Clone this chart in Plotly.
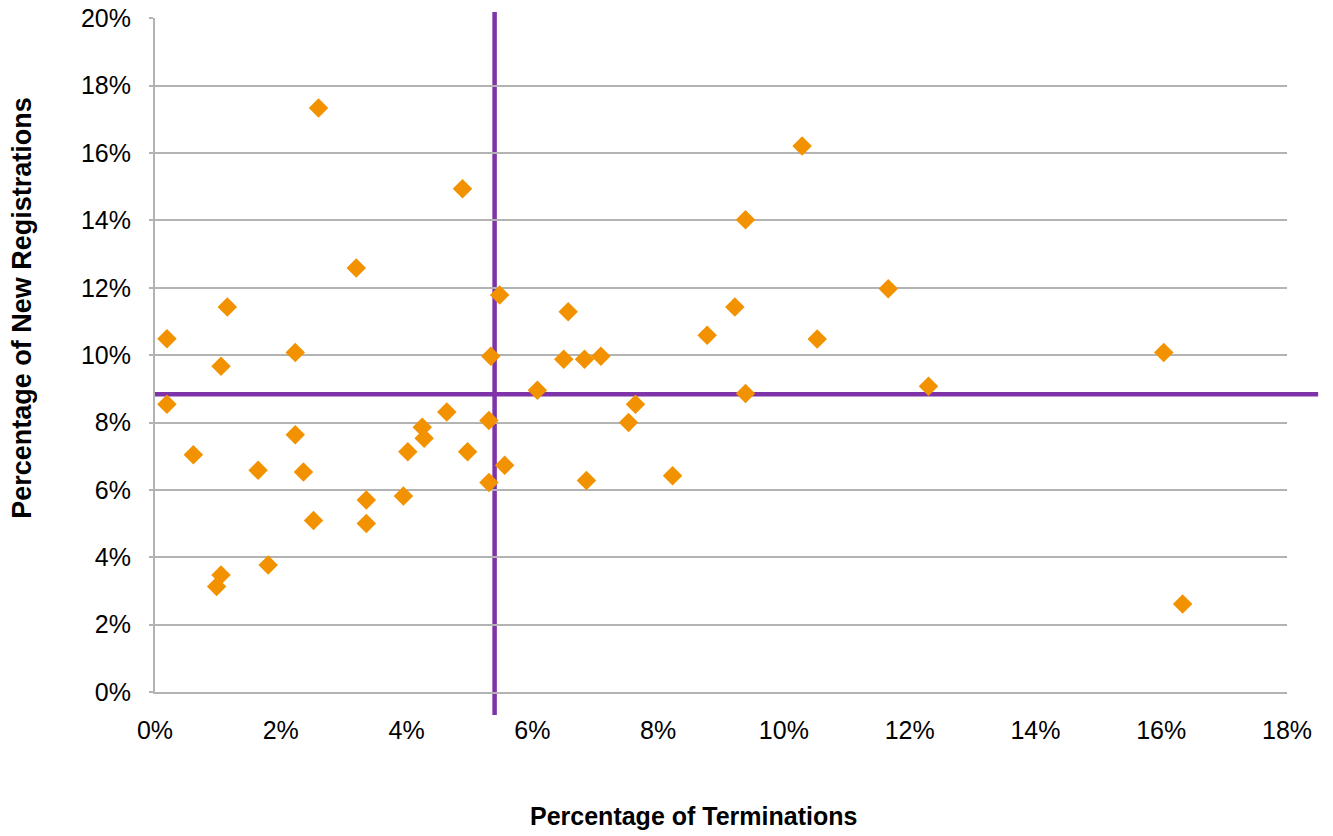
import plotly.graph_objects as go

# ── Data (percent) ────────────────────────────────────────────────────────────

terminations_pct = [
    0.19, 0.19, 0.61, 0.98, 1.05, 1.05, 1.15, 1.64, 1.80, 2.23,
    2.23, 2.36, 2.52, 2.60, 3.20, 3.36, 3.36, 3.95, 4.02, 4.25,
    4.28, 4.64, 4.89, 4.97, 5.31, 5.31, 5.34, 5.48, 5.56, 6.08,
    6.50, 6.57, 6.83, 6.86, 7.09, 7.53, 7.64, 8.23, 8.78, 9.22,
    9.39, 9.39, 10.29, 10.53, 11.66, 12.30, 16.04, 16.34,
]
new_registrations_pct = [
    10.49, 8.54, 7.04, 3.13, 3.47, 9.67, 11.43, 6.58, 3.77, 10.08,
    7.64, 6.53, 5.09, 17.34, 12.59, 5.70, 5.00, 5.82, 7.13, 7.86,
    7.53, 8.31, 14.94, 7.13, 8.06, 6.22, 9.97, 11.79, 6.73, 8.96,
    9.88, 11.29, 9.88, 6.28, 9.97, 8.00, 8.54, 6.42, 10.59, 11.43,
    14.02, 8.86, 16.21, 10.48, 11.97, 9.08, 10.08, 2.61,
]

avg_terminations = 5.40
avg_registrations = 8.84

x_ticks = [0, 2, 4, 6, 8, 10, 12, 14, 16, 18]
x_tick_labels = ["0%", "2%", "4%", "6%", "8%", "10%", "12%", "14%", "16%", "18%"]
y_ticks = [0, 2, 4, 6, 8, 10, 12, 14, 16, 18, 20]
y_tick_labels = ["0%", "2%", "4%", "6%", "8%", "10%", "12%", "14%", "16%", "18%", "20%"]

# ── Style ─────────────────────────────────────────────────────────────────────

FONT = "Liberation Sans, Arial, Helvetica, sans-serif"
GRID = "#B3B3B3"
ORANGE = "#F39200"
PURPLE = "#7E33A8"

fig = go.Figure(
    go.Scatter(
        x=terminations_pct,
        y=new_registrations_pct,
        mode="markers",
        marker=dict(symbol="diamond", size=15, color=ORANGE, line=dict(width=0)),
        cliponaxis=False,
        hovertemplate="Terminations: %{x:.2f}%<br>New registrations: %{y:.2f}%<extra></extra>",
    )
)

# average lines: one axis in data units, the other in paper units so they run past the plot edge
fig.add_shape(
    type="line", xref="x", yref="paper",
    x0=avg_terminations, x1=avg_terminations, y0=-0.034, y1=1.009,
    line=dict(color=PURPLE, width=4.5), layer="below",
)
fig.add_shape(
    type="line", xref="paper", yref="y",
    x0=0, x1=1.0275, y0=avg_registrations, y1=avg_registrations,
    line=dict(color=PURPLE, width=4.5), layer="below",
)

fig.update_layout(
    width=1333,
    height=836,
    paper_bgcolor="white",
    plot_bgcolor="white",
    showlegend=False,
    font=dict(family=FONT, size=25, color="black"),
    margin=dict(l=155, r=46, t=18, b=144, autoexpand=False),
    xaxis=dict(
        range=[0, 18],
        tickvals=x_ticks,
        ticktext=x_tick_labels,
        showgrid=False,
        zeroline=False,
        showline=True,
        linecolor=GRID,
        linewidth=2,
        ticks="",
        ticklabelstandoff=15,
        tickfont=dict(size=25),
        automargin=False,
    ),
    yaxis=dict(
        range=[0, 20.01],
        tickvals=y_ticks,
        ticktext=y_tick_labels,
        showgrid=True,
        gridcolor=GRID,
        gridwidth=2,
        zeroline=False,
        showline=True,
        linecolor=GRID,
        linewidth=2,
        ticks="outside",
        ticklen=4,
        tickwidth=2,
        tickcolor=GRID,
        ticklabelstandoff=13,
        ticklabeloverflow="allow",
        tickfont=dict(size=25),
        automargin=False,
    ),
    annotations=[
        dict(
            text="<b>Percentage of Terminations</b>",
            xref="paper", yref="paper", x=0.476, y=-0.184,
            xanchor="center", yanchor="middle", showarrow=False,
            font=dict(size=25),
        ),
        dict(
            text="<b>Percentage of New Registrations</b>",
            xref="paper", yref="paper", x=-0.1175, y=0.570,
            xanchor="center", yanchor="middle", showarrow=False,
            textangle=-90, font=dict(size=27),
        ),
    ],
)

# drop the browser's default body margin so the figure sits at the page corner
fig.write_html(
    "out.html",
    config={"displayModeBar": False},
    post_script="document.body.style.margin = '0';",
)
